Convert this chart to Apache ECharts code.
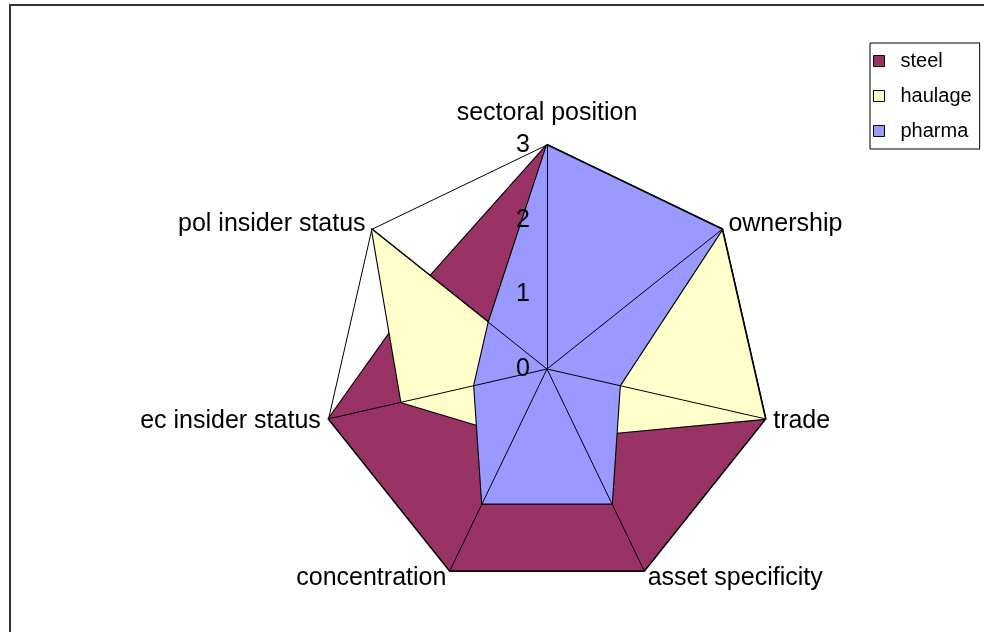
<!DOCTYPE html>
<html>
<head>
<meta charset="utf-8">
<script src="https://cdn.jsdelivr.net/npm/echarts@6/dist/echarts.min.js"></script>
<style>html,body{margin:0;padding:0;background:#fff;}#c{width:984px;height:632px;}</style>
</head>
<body>
<div id="c"></div>
<script>
const indicators = ['sectoral position','pol insider status','ec insider status','concentration','asset specificity','trade','ownership'];
const steel   = [3, 2, 3, 3, 3, 3, 3];
const haulage = [0, 3, 2, 1, 1, 3, 3];
const pharma  = [3, 1, 1, 2, 2, 1, 3];
const radialTicks = [0, 1, 2, 3];
const seriesNames = ['steel','haulage','pharma'];
const seriesColors = ['#993366','#FFFFCC','#9999FF'];
const seriesData = [steel, haulage, pharma];

const FONT = 'Liberation Sans, Arial, sans-serif';
const FS = 25;
const chart = echarts.init(document.getElementById('c'));
chart.setOption({
  animation: false,
  backgroundColor: '#fff',
  graphic: [{
    type: 'rect', z: 0,
    shape: {x: 10, y: 5, width: 1000, height: 700},
    style: {fill: 'none', stroke: '#333', lineWidth: 2}
  }],
  legend: {
    data: seriesNames,
    orient: 'vertical',
    left: 870, top: 43,
    padding: [8, 8, 8, 3],
    itemGap: 15,
    itemWidth: 11, itemHeight: 11,
    icon: 'rect',
    borderColor: '#000', borderWidth: 1,
    itemStyle: {borderColor: '#000', borderWidth: 1},
    textStyle: {fontFamily: FONT, fontSize: 20, color: '#000', padding: [0, 0, 0, 11]}
  },
  radar: {
    center: [547, 369],
    radius: 224,
    startAngle: 90,
    shape: 'polygon',
    splitNumber: 3,
    z: 5,
    indicator: indicators.map(n => ({name: n, min: 0, max: 3})),
    axisName: {
      color: '#000', fontFamily: FONT, fontSize: FS,
      formatter: (name) => name === 'sectoral position' ? '{t|' + name + '}' : name,
      rich: {t: {fontFamily: FONT, fontSize: FS, color: '#000', padding: [0, 0, 11, 0]}}
    },
    nameGap: 8,
    axisLine: {lineStyle: {color: '#000', width: 1}},
    splitLine: {lineStyle: {color: ['rgba(0,0,0,0)','rgba(0,0,0,0)','rgba(0,0,0,0)','#000'], width: 1}},
    splitArea: {show: false},
    axisTick: {show: false},
    axisLabel: {show: false}
  },
  polar: {center: [547, 369], radius: 224},
  angleAxis: {type: 'value', min: 0, max: 360, startAngle: 90, show: false},
  radiusAxis: {
    type: 'value', min: 0, max: 3, interval: 1, z: 6,
    axisLine: {show: false}, axisTick: {show: false}, splitLine: {show: false},
    axisLabel: {show: true, fontFamily: FONT, fontSize: FS, color: '#000', margin: 17,
      formatter: v => radialTicks.includes(v) ? String(v) : ''}
  },
  series: [{
    type: 'radar',
    z: 2,
    symbol: 'none',
    data: seriesData.map((d, i) => ({
      name: seriesNames[i],
      value: d,
      itemStyle: {color: seriesColors[i]},
      lineStyle: {color: '#000', width: 2.2},
      areaStyle: {color: seriesColors[i], opacity: 1}
    }))
  }]
});
</script>
</body>
</html>
